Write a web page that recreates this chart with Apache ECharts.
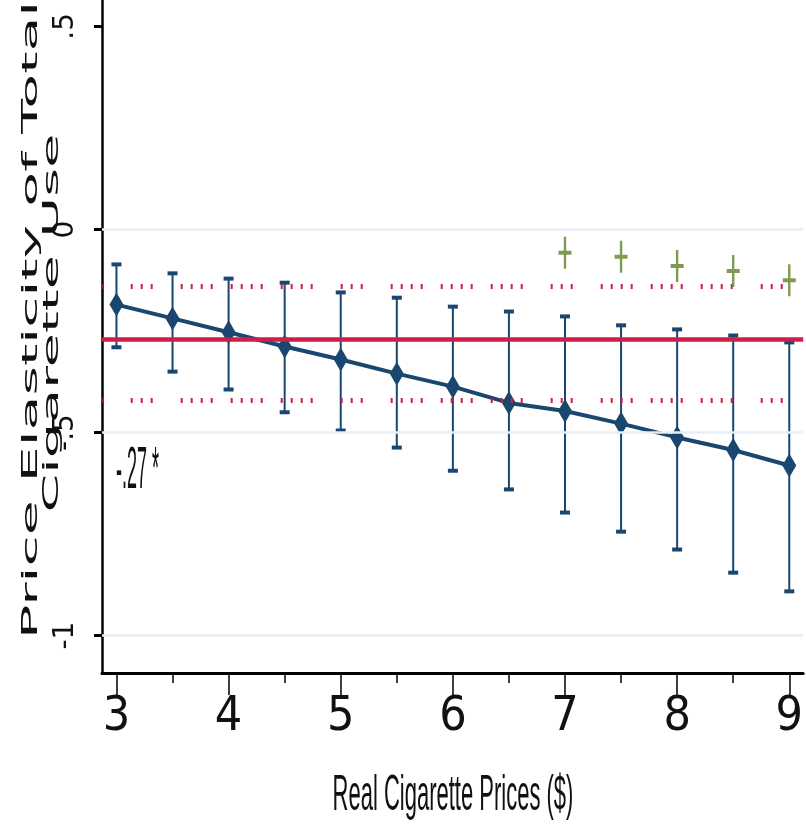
<!DOCTYPE html>
<html>
<head>
<meta charset="utf-8">
<script src="https://cdn.jsdelivr.net/npm/echarts@6/dist/echarts.min.js"></script>
<style>
html,body{margin:0;padding:0;background:#fff;}
#chart{width:806px;height:828px;}
</style>
</head>
<body>
<div id="chart"></div>
<script>
// ---- data ----
const prices = [3, 3.5, 4, 4.5, 5, 5.5, 6, 6.5, 7, 7.5, 8, 8.5, 9];
const elasticity = [-0.185, -0.219, -0.253, -0.288, -0.320, -0.355, -0.387, -0.427, -0.447, -0.478, -0.512, -0.543, -0.581];
const ciUpper = [-0.086, -0.108, -0.121, -0.131, -0.155, -0.168, -0.190, -0.202, -0.214, -0.236, -0.246, -0.261, -0.278];
const ciLower = [-0.290, -0.350, -0.394, -0.450, -0.495, -0.537, -0.594, -0.640, -0.697, -0.744, -0.788, -0.845, -0.891];
const signifPrices = [7, 7.5, 8, 8.5, 9];
const signifMarks = [-0.057, -0.067, -0.090, -0.102, -0.125];
const avgElasticity = -0.269;
const avgCI = [-0.135, -0.419];
const avgLabel = '-.27 *';
const xTicks = [3, 4, 5, 6, 7, 8, 9];
const xMinorTicks = [3.5, 4.5, 5.5, 6.5, 7.5, 8.5];
const yTicks = [-1, -0.5, 0, 0.5];
const yGrid = [0, -0.5, -1];
const xTitle = 'Real Cigarette Prices ($)';
const yTitle = ['Price Elasticity of Total', 'Cigarette Use'];

// ---- styles ----
const NAVY = '#1a476f';
const RED = '#cf1d49';
const GREEN = '#5f8228';
const dotPattern = [2,8,2,8,2,28, 2,8,2,8,2,8,2,18, 2,8,2,8,2,8,2,18, 2,8,2,8,2,8,2,28];

function fmtY(v){
  if (v === 0) return '0';
  return (v < 0 ? '-' : '') + String(Math.abs(v)).replace(/^0\./, '.');
}

const chart = echarts.init(document.getElementById('chart'));
const option = {
  animation: false,
  backgroundColor: '#ffffff',
  grid: { left: 102, right: 0, top: 0, bottom: 155, containLabel: false },
  xAxis: [{
    type: 'value', min: 2.871, max: 9.124,
    axisLine: { show: true, onZero: false, lineStyle: { color: '#000', width: 3 } },
    axisTick: { show: true, customValues: xTicks, length: 22, lineStyle: { color: '#000', width: 1.5 } },
    axisLabel: { show: true, customValues: xTicks, margin: 21, fontSize: 48,
      fontFamily: "'Liberation Sans Narrow','DejaVu Sans Condensed','Liberation Sans',sans-serif", color: '#111' },
    splitLine: { show: false }
  }, {
    type: 'value', min: 2.871, max: 9.124, position: 'bottom',
    axisLine: { show: false, onZero: false },
    axisTick: { show: true, customValues: xMinorTicks, length: 10, lineStyle: { color: '#000', width: 1.5 } },
    axisLabel: { show: false },
    splitLine: { show: false }
  }],
  yAxis: {
    type: 'value', min: -1.092, max: 0.565,
    axisLine: { show: true, onZero: false, lineStyle: { color: '#000', width: 2.5 } },
    axisTick: { show: true, customValues: yTicks, length: 8, lineStyle: { color: '#000', width: 3 } },
    axisLabel: { show: true, customValues: yTicks, rotate: 90, margin: 22,
      color: '#111', formatter: fmtY,
      textStyle: { fontSize: 28, fontFamily: "'DejaVu Sans',sans-serif" },
      fontSize: 28, fontFamily: "'DejaVu Sans',sans-serif" },
    splitLine: { show: false }
  },
  series: [
    {
      type: 'line', data: [], silent: true, z: 1,
      markLine: {
        silent: true, symbol: 'none', label: { show: false },
        data: yGrid.map(v => ({ yAxis: v, lineStyle: { color: '#e8eef4', width: 2.5, type: 'solid' } }))
      }
    },
    {
      type: 'line', data: [], silent: true, z: 2,
      markLine: {
        silent: true, symbol: 'none', label: { show: false },
        data: [
          { yAxis: avgElasticity, lineStyle: { color: RED, width: 4.5, type: 'solid', opacity: 1 } },
          { yAxis: avgCI[0], lineStyle: { color: RED, width: 5, type: dotPattern, dashOffset: 181.3 } },
          { yAxis: avgCI[1], lineStyle: { color: RED, width: 5, type: dotPattern, dashOffset: 181.3 } }
        ]
      }
    },
    {
      type: 'custom', z: 3, silent: true,
      data: prices.map((p, i) => [p, ciLower[i], ciUpper[i]]),
      renderItem: function (params, api) {
        const x = api.value(0);
        const pLo = api.coord([x, api.value(1)]);
        const pHi = api.coord([x, api.value(2)]);
        const cw = 10, ch = 4;
        return {
          type: 'group',
          children: [
            { type: 'line', shape: { x1: pHi[0], y1: pHi[1], x2: pLo[0], y2: pLo[1] }, style: { stroke: NAVY, lineWidth: 2 } },
            { type: 'rect', shape: { x: pHi[0] - cw / 2, y: pHi[1] - ch / 2, width: cw, height: ch }, style: { fill: NAVY } },
            { type: 'rect', shape: { x: pLo[0] - cw / 2, y: pLo[1] - ch / 2, width: cw, height: ch }, style: { fill: NAVY } }
          ]
        };
      }
    },
    {
      type: 'line', z: 4, silent: true,
      data: prices.map((p, i) => [p, elasticity[i]]),
      lineStyle: { color: NAVY, width: 4 },
      symbol: 'diamond', symbolSize: [14, 24],
      itemStyle: { color: NAVY },
      showAllSymbol: true
    },
    {
      type: 'scatter', z: 5, silent: true,
      data: signifPrices.map((p, i) => [p, signifMarks[i]]),
      symbol: 'path://M5.3,0H7.7V14H13V18H7.7V32H5.3V18H0V14H5.3Z',
      symbolSize: [13, 32],
      itemStyle: { color: GREEN }
    }
  ],
  graphic: [
    { type: 'text', x: 31, y: 320, rotation: Math.PI / 2, scaleX: 2.66, silent: true,
      style: { text: yTitle[0], fontSize: 21.4, fontFamily: "'DejaVu Sans',sans-serif", fill: '#111', align: 'center', verticalAlign: 'middle' } },
    { type: 'text', x: 52, y: 323, rotation: Math.PI / 2, scaleX: 2.6, silent: true,
      style: { text: yTitle[1], fontSize: 21.4, fontFamily: "'DejaVu Sans',sans-serif", fill: '#111', align: 'center', verticalAlign: 'middle' } },
    { type: 'text', x: 453, y: 796, scaleY: 2.3, silent: true,
      style: { text: xTitle, fontSize: 22, fontFamily: "'Liberation Sans',sans-serif", fill: '#111', align: 'center', verticalAlign: 'middle' } },
    { type: 'text', x: 116, y: 472, scaleY: 3.3, silent: true,
      style: { text: avgLabel, fontSize: 18, fontFamily: "'Liberation Sans',sans-serif", fill: '#111', align: 'left', verticalAlign: 'middle' } }
  ]
};
chart.setOption(option);
</script>
</body>
</html>
